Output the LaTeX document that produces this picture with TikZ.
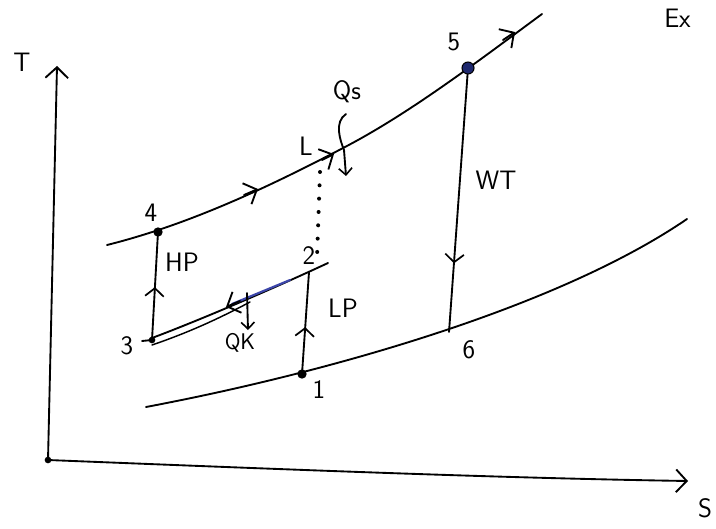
\documentclass[tikz,border=0pt]{standalone}
\usetikzlibrary{arrows.meta,decorations.markings}
\begin{document}
\begin{tikzpicture}[x=0.75pt,y=-0.75pt,line width=1.4pt,line cap=round,line join=round,
  lbl/.style={font=\sffamily\fontsize{20}{22}\selectfont,inner sep=1pt},
  slbl/.style={font=\sffamily\fontsize{17}{19}\selectfont,inner sep=1pt},
  dot/.style={circle,fill,inner sep=0pt,minimum size=7pt},
  bigdot/.style={circle,fill={rgb,255:red,30;green,40;blue,110},draw=black,line width=0.8pt,inner sep=0pt,minimum size=9pt},
  chev/.style={-{Straight Barb[length=8pt,width=17pt,line width=1.4pt]}},
  axtip/.style={-{Straight Barb[length=8pt,width=17pt,line width=1.4pt]}},
  midarrow/.style={decoration={markings,mark=at position #1 with {\arrow{Straight Barb[length=6pt,width=14pt,line width=1.3pt]}}},postaction={decorate}},
  dotline/.style={line width=3pt,line cap=round,dash pattern=on 0pt off 10pt}]
\useasboundingbox (0,0) rectangle (716,528);
% axes
\coordinate (O) at (48,460);
\coordinate (Ttop) at (57,66);
\coordinate (Send) at (688,481);
\draw[axtip] (O) -- (Ttop);
\draw[axtip] (O) .. controls (300,470) and (500,478) .. (Send);
\node[dot,minimum size=5pt] (On) at (O) {};
\node[lbl] (Tl) at (22,62) {T};
\node[lbl] (Sl) at (705,508) {S};
\node[lbl,anchor=west] (Ex) at (662,18) {Ex};
% state points
\coordinate (p1) at (302,374);
\coordinate (p2) at (309,272);
\coordinate (p3) at (152,340);
\coordinate (p4) at (158,232);
\coordinate (p5) at (468,68);
\coordinate (p6) at (449,332);
\coordinate (pL) at (320,172);
% upper (high pressure) curve
\draw (107,245) .. controls (187,225) and (265,189) .. (345,147)
      .. controls (410,113) and (477,62) .. (542,14);
\draw[chev] (244,195) -- (258,189);
\draw[chev] (322,160) -- (334,154);
\draw[chev] (503,40) -- (515,32);
% middle curve 3-2
\draw (152,338) .. controls (200,320) and (270,290) .. (328,263);
\draw[line width=1.1pt] (152,345) .. controls (190,332) and (220,318) .. (250,302);
\draw[line width=1.6pt,color={rgb,255:red,60;green,70;blue,170}] (232,304) -- (290,280);
\draw[chev] (240,301) -- (226,307);
% bottom curve
\draw (146,407) .. controls (326,373) and (557,308) .. (687,219);
% verticals
\draw[midarrow=0.49] (p3) -- (p4);
\draw[midarrow=0.46] (p1) -- (p2);
\draw[midarrow=0.74] (p5) -- (p6);
\draw (p3) -- ++(-10,1);
% dotted 2 to L
\draw[dotline] (pL) -- (317,258);
% heat arrows
\coordinate (qs0) at (346,114);
\coordinate (qs1) at (346,176);
\draw[-{Straight Barb[length=5pt,width=10pt,line width=1.2pt]}] (qs0) .. controls (334,122) and (340,140) .. (344,150) -- (qs1);
\coordinate (qk0) at (247,293);
\coordinate (qk1) at (248,330);
\draw[-{Straight Barb[length=5pt,width=10pt,line width=1.2pt]}] (qk0) -- (qk1);
% dots
\node[dot] (n1) at (p1) {};
\node[dot,minimum size=5pt] (n3) at (p3) {};
\node[dot] (n4) at (p4) {};
\node[bigdot] (n5) at (p5) {};
% labels
\node[lbl] (l1) at (319,390) {1};
\node[lbl] (l2) at (309,256) {2};
\node[lbl] (l3) at (127,346) {3};
\node[lbl] (l4) at (151,213) {4};
\node[lbl] (l5) at (454,42) {5};
\node[lbl] (l6) at (469,350) {6};
\node[lbl] (lL) at (306,146) {L};
\node[lbl] (lQs) at (347,92) {Qs};
\node[slbl] (lQK) at (240,343) {QK};
\node[lbl] (lHP) at (182,262) {HP};
\node[lbl] (lLP) at (343,308) {LP};
\node[lbl] (lWT) at (496,180) {WT};
\end{tikzpicture}
\end{document}
